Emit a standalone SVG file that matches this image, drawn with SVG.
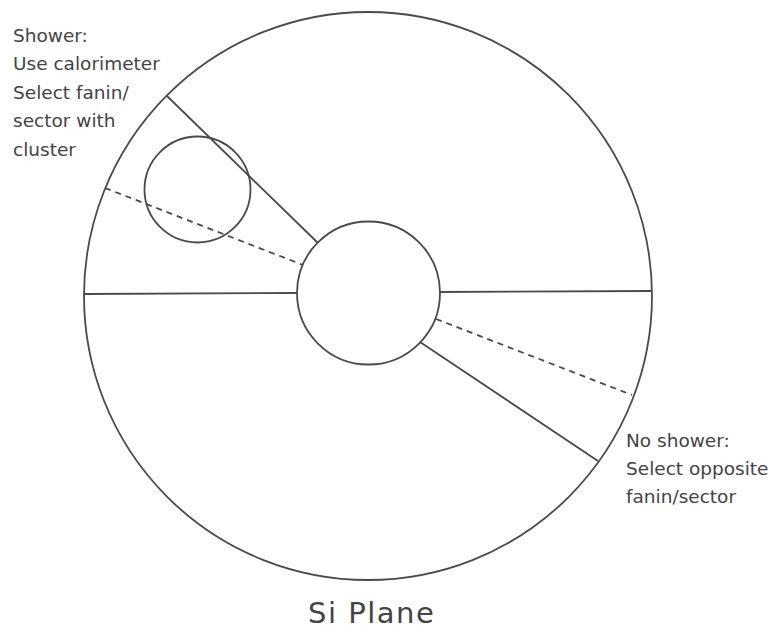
<svg xmlns="http://www.w3.org/2000/svg" width="780" height="633" viewBox="0 0 780 633">
<style>
.s{fill:none;stroke:#4a4a4a;stroke-width:1.8}
.d{fill:none;stroke:#4a4a4a;stroke-width:1.8;stroke-dasharray:6,5}
.t{font-family:"DejaVu Sans",sans-serif;font-size:18.5px;fill:#444}
.big{font-family:"DejaVu Sans",sans-serif;font-size:29px;fill:#444;letter-spacing:1.5px}
</style>
<rect width="780" height="633" fill="#fff"/>
<g id="plane"><circle class="s" cx="368" cy="296" r="284"/></g>
<g id="core"><circle class="s" cx="368.5" cy="293" r="71.5"/></g>
<g id="cluster"><circle class="s" cx="197.5" cy="189.5" r="53"/></g>
<g id="connectors">
<line class="s" x1="167" y1="96" x2="318" y2="243"/>
<line class="d" x1="105" y1="188" x2="303" y2="265"/>
<line class="s" x1="84" y1="294" x2="297" y2="293"/>
<line class="s" x1="440" y1="292" x2="652" y2="291"/>
<line class="d" x1="436" y1="319" x2="632" y2="395"/>
<line class="s" x1="420" y1="342" x2="598" y2="461"/>
</g>
<g id="label-shower">
<text class="t" x="13" y="42">Shower:</text>
<text class="t" x="13" y="70">Use calorimeter</text>
<text class="t" x="13" y="99">Select fanin/</text>
<text class="t" x="13" y="127">sector with</text>
<text class="t" x="13" y="156">cluster</text>
</g>
<g id="label-noshower">
<text class="t" x="626" y="447">No shower:</text>
<text class="t" x="626" y="475">Select opposite</text>
<text class="t" x="626" y="503">fanin/sector</text>
</g>
<g id="title"><text class="big" x="308" y="623">Si Plane</text></g>
</svg>
